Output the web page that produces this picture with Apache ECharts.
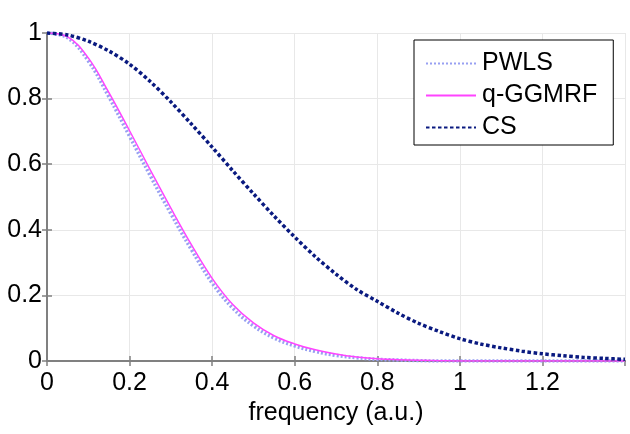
<!DOCTYPE html>
<html><head><meta charset="utf-8">
<script src="https://cdn.jsdelivr.net/npm/echarts@6/dist/echarts.min.js"></script>
<style>html,body{margin:0;padding:0;background:#fff}#c{width:630px;height:434px}</style>
</head><body><div id="c"></div>
<script>
var freq = [0,0.05,0.1,0.15,0.2,0.25,0.3,0.35,0.4,0.45,0.5,0.55,0.6,0.65,0.7,0.75,0.8,0.85,0.9,0.95,1.0,1.05,1.1,1.15,1.2,1.25,1.3,1.35,1.4];
var pwls = [1.000,0.985,0.915,0.805,0.685,0.565,0.449,0.339,0.238,0.161,0.107,0.070,0.046,0.029,0.017,0.010,0.005,0.003,0.001,0.000,0.000,0.000,0.000,0.000,0.000,0.000,0.000,0.000,0.000];
var qggmrf = [1.000,0.988,0.924,0.818,0.702,0.583,0.466,0.354,0.252,0.172,0.116,0.077,0.052,0.034,0.021,0.012,0.007,0.004,0.002,0.001,0.000,0.000,0.000,0.000,0.000,0.000,0.000,0.000,0.000];
var cs = [1.000,0.994,0.975,0.945,0.905,0.852,0.790,0.722,0.652,0.580,0.510,0.442,0.378,0.318,0.265,0.218,0.182,0.146,0.115,0.090,0.068,0.052,0.040,0.030,0.022,0.016,0.011,0.008,0.005];
var seriesNames = ['PWLS','q-GGMRF','CS'];
var xName = 'frequency (a.u.)';

function pairs(v){ return freq.map(function(f,i){ return [f, v[i]]; }); }
var font = 'Liberation Sans, Arial, sans-serif';
var axisGrey = '#808080';
var chart = echarts.init(document.getElementById('c'), null, {renderer:'canvas'});
chart.setOption({
  animation:false,
  backgroundColor:'#fff',
  grid:{left:47,right:5,top:33,bottom:73,containLabel:false},
  legend:{
    orient:'vertical', left:414, top:40, width:199,
    backgroundColor:'#fff', borderColor:'#000', borderWidth:1,
    padding:[11,16,5,11], itemGap:7, itemWidth:50, itemHeight:14,
    itemStyle:{opacity:0},
    textStyle:{fontFamily:font, fontSize:25, color:'#000', lineHeight:25, padding:[0,0,0,1]},
    data:seriesNames
  },
  xAxis:[{
    type:'value', min:0, max:1.4, interval:0.2,
    name:xName, nameLocation:'middle', nameGap:40,
    nameTextStyle:{fontFamily:font, fontSize:25, color:'#000'},
    axisLine:{show:true, onZero:false, lineStyle:{color:axisGrey, width:2}},
    axisTick:{show:true, inside:true, length:5, lineStyle:{color:axisGrey, width:1.5}},
    axisLabel:{fontFamily:font, fontSize:25, color:'#000', margin:10, showMaxLabel:false},
    splitLine:{show:true, lineStyle:{color:'#e8e8e8', width:1}}
  },{
    type:'value', position:'top', min:0, max:1.4, interval:0.2,
    axisLine:{show:true, lineStyle:{color:axisGrey, width:2}},
    axisTick:{show:true, inside:true, length:5, lineStyle:{color:axisGrey, width:1.5}},
    axisLabel:{show:false}, splitLine:{show:false}
  }],
  yAxis:[{
    type:'value', min:0, max:1, interval:0.2,
    axisLine:{show:true, onZero:false, lineStyle:{color:axisGrey, width:2}},
    axisTick:{show:true, inside:true, length:5, lineStyle:{color:axisGrey, width:1.5}},
    axisLabel:{fontFamily:font, fontSize:25, color:'#000', margin:5},
    splitLine:{show:true, lineStyle:{color:'#e8e8e8', width:1}}
  },{
    type:'value', position:'right', min:0, max:1, interval:0.2,
    axisLine:{show:true, lineStyle:{color:axisGrey, width:2}},
    axisTick:{show:true, inside:true, length:5, lineStyle:{color:axisGrey, width:1.5}},
    axisLabel:{show:false}, splitLine:{show:false}
  }],
  series:[
    {name:seriesNames[0], type:'line', data:pairs(pwls), symbol:'none', smooth:0.4,
     color:'#98a0f2', lineStyle:{color:'#98a0f2', width:3.5, type:[2,2]}},
    {name:seriesNames[1], type:'line', data:pairs(qggmrf), symbol:'none', smooth:0.4,
     color:'#ff44ff', lineStyle:{color:'#ff44ff', width:1.5, type:'solid'}},
    {name:seriesNames[2], type:'line', data:pairs(cs), symbol:'none', smooth:0.3,
     color:'#0a1a80', lineStyle:{color:'#0a1a80', width:3.5, type:[3.5,2.5]}}
  ]
});
</script></body></html>
